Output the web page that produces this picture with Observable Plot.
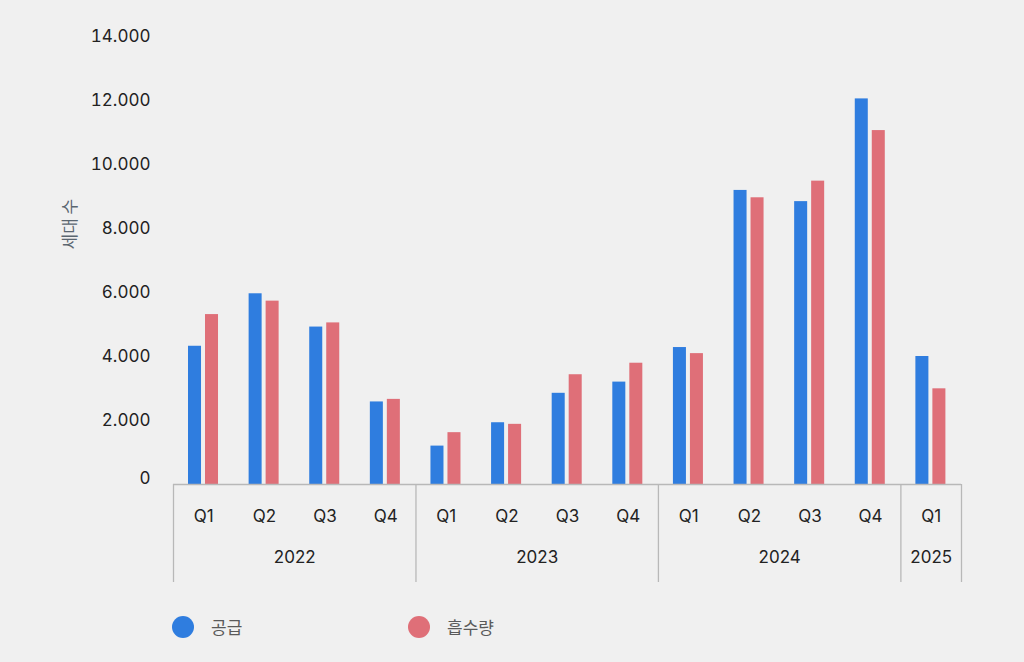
<!DOCTYPE html>
<html>
<head>
<meta charset="utf-8">
<script src="https://cdn.jsdelivr.net/npm/d3@7"></script>
<script src="https://cdn.jsdelivr.net/npm/@observablehq/plot@0.6"></script>
<style>
  html, body { margin: 0; padding: 0; background: #f0f0f0; }
  body { width: 1024px; height: 662px; overflow: hidden; font-family: "Inter", "Noto Sans CJK KR", sans-serif; }
  #chart svg { display: block; background: #f0f0f0; }
  #legend { position: relative; height: 62px; }
  .item { position: absolute; top: 14px; display: flex; align-items: center; font-size: 17px; color: #5a5a5a; font-family: "Noto Sans CJK KR", sans-serif; }
  .dot { width: 22px; height: 22px; border-radius: 50%; margin-right: 17px; }
</style>
</head>
<body>
<div id="chart"></div>
<div id="legend"></div>
<script>
const years    = ["2022","2022","2022","2022","2023","2023","2023","2023","2024","2024","2024","2024","2025"];
const quarters = ["Q1","Q2","Q3","Q4","Q1","Q2","Q3","Q4","Q1","Q2","Q3","Q4","Q1"];
const supply     = [4320, 5960, 4920, 2580, 1200, 1930, 2850, 3200, 4280, 9190, 8840, 12050, 4000];
const absorption = [5310, 5730, 5050, 2660, 1620, 1880, 3430, 3790, 4090, 8960, 9480, 11060, 2990];
const seriesNames = ["공급", "흡수량"];
const seriesColors = ["#2f7ddf", "#df6f78"];
const yTicks = [0, 2000, 4000, 6000, 8000, 10000, 12000, 14000];
const yLabel = "세대 수";

const rows = quarters.map((q, i) => ({i, q, year: years[i], supply: supply[i], absorption: absorption[i]}));

// year groups
const groups = [];
years.forEach((y, i) => {
  const g = groups[groups.length - 1];
  if (g && g.year === y) g.count++;
  else groups.push({year: y, start: i, count: 1});
});
const separators = groups.map(g => g.start).concat([quarters.length]);

const fmt = d => d3.format(",")(d).replace(/,/g, ".");
const textColor = "#222222";
const lineColor = "#b8b8b8";

const chart = Plot.plot({
  width: 1024,
  height: 600,
  marginLeft: 173,
  marginRight: 63,
  marginTop: 20,
  marginBottom: 18,
  style: {background: "#f0f0f0", color: textColor, fontFamily: "Inter, 'Noto Sans CJK KR', sans-serif", fontSize: "17px"},
  x: {domain: [0, quarters.length], axis: null},
  y: {domain: [0, 14000], range: [484, 36], axis: null},
  marks: [
    Plot.rectY(rows, {x1: d => d.i, x2: d => d.i + 1, y: "supply", fill: seriesColors[0], insetLeft: 15, insetRight: 32.6}),
    Plot.rectY(rows, {x1: d => d.i, x2: d => d.i + 1, y: "absorption", fill: seriesColors[1], insetLeft: 32, insetRight: 15.6}),
    Plot.ruleY([0], {stroke: lineColor, strokeWidth: 1.3}),
    Plot.ruleX(separators, {x: d => d, insetTop: 464, stroke: lineColor, strokeWidth: 1.3}),
    Plot.text(rows, {x: d => d.i + 0.5, y: 0, text: "q", dy: 32, fill: textColor, fontSize: 17}),
    Plot.text(groups, {x: d => d.start + d.count / 2, y: 0, text: "year", dy: 73, fill: textColor, fontSize: 17}),
    Plot.axisY({ticks: yTicks.filter(t => t !== 0), tickSize: 0, tickPadding: 23, tickFormat: fmt, label: null, fontSize: 17}),
    Plot.axisY({ticks: yTicks.filter(t => t === 0), tickSize: 0, tickPadding: 23, tickFormat: fmt, label: null, fontSize: 17, dy: -6}),
    Plot.text([yLabel], {frameAnchor: "left", rotate: -90, dx: -103, dy: -52, fill: "#5b6670", fontSize: 17, fontFamily: "'Noto Sans CJK KR', sans-serif"})
  ]
});
document.getElementById("chart").appendChild(chart);

const legend = document.getElementById("legend");
const lefts = [172, 408];
seriesNames.forEach((name, k) => {
  const item = document.createElement("div");
  item.className = "item";
  item.style.left = lefts[k] + "px";
  item.innerHTML = `<span class="dot" style="background:${seriesColors[k]}"></span><span>${name}</span>`;
  legend.appendChild(item);
});
</script>
</body>
</html>
